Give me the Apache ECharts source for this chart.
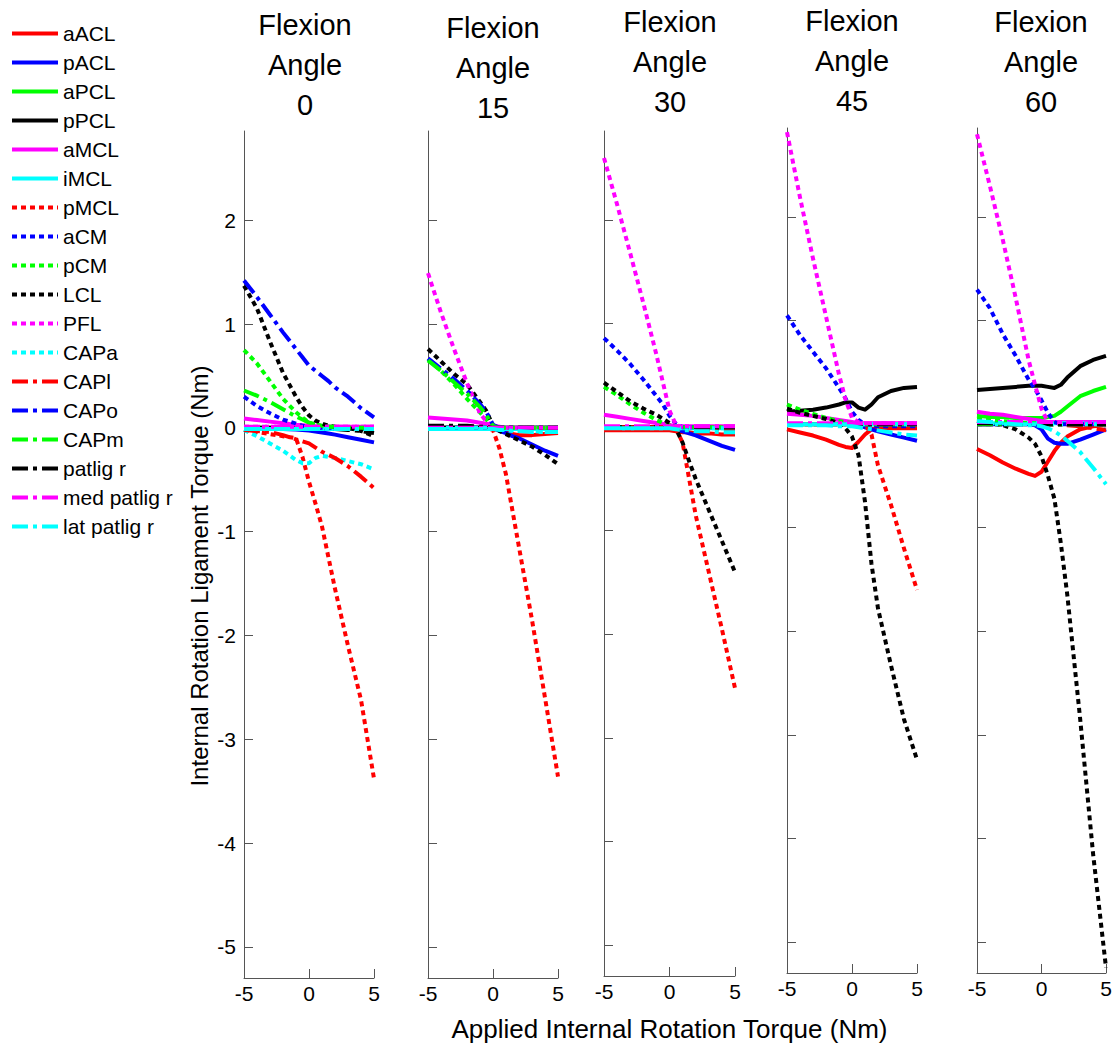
<!DOCTYPE html>
<html><head><meta charset="utf-8">
<script src="https://cdn.jsdelivr.net/npm/echarts@6/dist/echarts.min.js"></script>
<style>html,body{margin:0;padding:0;background:#fff}#c{width:1117px;height:1049px}</style>
</head><body><div id="c"></div><script>
// x grid shared by every series (applied internal rotation torque, Nm)
const X = [-5,-4,-3,-2,-1,-0.5,0,0.5,1,1.5,2,3,4,5];
const names = ['aACL','pACL','aPCL','pPCL','aMCL','iMCL','pMCL','aCM','pCM','LCL','PFL','CAPa','CAPl','CAPo','CAPm','patlig r','med patlig r','lat patlig r'];
const angles = ['0','15','30','45','60'];
const yTicks = [-5,-4,-3,-2,-1,0,1,2];
const xTicks = [-5,0,5];

// ---- Flexion angle 0 ----
const aACL_0 = [-0.01,-0.01,-0.01,-0.01,-0.01,-0.01,-0.01,-0.01,-0.01,-0.01,-0.01,0,0,0];
const pACL_0 = [0,0,-0.005,-0.01,-0.015,-0.02,-0.025,-0.035,-0.045,-0.055,-0.065,-0.09,-0.115,-0.14];
const aPCL_0 = [0,0,0,0,0,0,0,0,0,0,0,0,0,0];
const pPCL_0 = [0,0,0,0,0,0,0,0,0,0,0,0,0,0];
const aMCL_0 = [0.09,0.075,0.06,0.045,0.03,0.025,0.02,0.015,0.01,0.01,0.01,0.01,0.01,0.01];
const iMCL_0 = [-0.01,-0.01,-0.01,-0.01,-0.01,-0.01,-0.01,-0.01,-0.01,-0.01,-0.01,-0.01,-0.01,-0.01];
const pMCL_0 = [-0.02,-0.04,-0.06,-0.08,-0.10,-0.28,-0.52,-0.73,-0.95,-1.25,-1.55,-2.10,-2.62,-3.38];
const aCM_0 = [0.30,0.21,0.14,0.08,0.04,0.02,0.01,0,0,0,0,0,0,0];
const pCM_0 = [0.75,0.62,0.45,0.28,0.15,0.10,0.05,0.03,0.02,0.01,0.01,0,0,0];
const LCL_0 = [1.37,1.15,0.83,0.53,0.30,0.20,0.12,0.07,0.04,0.02,0.01,0,-0.03,-0.08];
const PFL_0 = [0.01,0.01,0.01,0.01,0.01,0.01,0.01,0.01,0.01,0.01,0.01,0.01,0.01,0.01];
const CAPa_0 = [-0.02,-0.08,-0.15,-0.22,-0.31,-0.34,-0.34,-0.29,-0.27,-0.28,-0.29,-0.32,-0.35,-0.40];
const CAPl_0 = [-0.02,-0.03,-0.04,-0.07,-0.11,-0.13,-0.15,-0.19,-0.23,-0.26,-0.29,-0.37,-0.47,-0.58];
const CAPo_0 = [1.42,1.26,1.09,0.92,0.76,0.68,0.60,0.55,0.50,0.45,0.39,0.30,0.19,0.10];
const CAPm_0 = [0.36,0.31,0.25,0.18,0.11,0.08,0.05,0.03,0.02,0.01,0.01,0,0,0];
const patlig_0 = [0,0,0,0,0,0,0,0,0,-0.01,-0.01,-0.02,-0.03,-0.05];
const medpat_0 = [0.01,0.01,0.01,0.01,0.01,0.01,0.01,0.01,0.01,0.01,0.01,0.01,0.01,0.01];
const latpat_0 = [-0.01,-0.01,-0.01,-0.01,-0.01,-0.01,-0.01,-0.01,-0.01,-0.01,-0.01,-0.01,-0.01,-0.01];

// ---- Flexion angle 15 ----
const aACL_15 = [0,0,0,0,0,0,0,-0.02,-0.04,-0.06,-0.07,-0.07,-0.06,-0.05];
const pACL_15 = [0,0,0,0,0,0,0,-0.03,-0.05,-0.08,-0.10,-0.16,-0.22,-0.27];
const aPCL_15 = [0,0,0,0,0,0,0,0,0,0,0,0,0,0];
const pPCL_15 = [0,0,0,0,0,0,0,0,0,0,0,0,0,0];
const aMCL_15 = [0.10,0.09,0.08,0.07,0.05,0.04,0.02,0.01,0,0,0,0,0,0];
const iMCL_15 = [-0.01,-0.01,-0.01,-0.01,-0.01,-0.01,-0.01,-0.01,-0.01,-0.01,-0.01,-0.01,-0.01,-0.01];
const pMCL_15 = [0,0,0,0,0,0,-0.02,-0.20,-0.45,-0.80,-1.15,-1.85,-2.60,-3.36];
const aCM_15 = [0,0,0,0,0,0,0,0,0,0,0,0,0,0];
const pCM_15 = [0.66,0.55,0.42,0.28,0.15,0.08,0.01,0,0,0,0,0,0,0];
const LCL_15 = [0.76,0.64,0.52,0.42,0.25,0.16,0.02,-0.03,-0.06,-0.09,-0.12,-0.18,-0.26,-0.35];
const PFL_15 = [1.49,1.11,0.76,0.43,0.14,0.06,0.01,0,0,0,0,0,0,0];
const CAPa_15 = [0,0,0,0,0,0,0,-0.01,-0.02,-0.02,-0.03,-0.03,-0.04,-0.04];
const CAPl_15 = [0,0,0,0,0,0,0,0,0,0,0,0,0,0];
const CAPo_15 = [0.67,0.57,0.47,0.36,0.23,0.15,0.03,0,0,0,0,0,0,0];
const CAPm_15 = [0.65,0.55,0.44,0.33,0.20,0.12,0.02,0,0,0,0,0,0,0];
const patlig_15 = [0.02,0.02,0.02,0.02,0.01,0.01,0,0,0,0,0,0,0,0];
const medpat_15 = [0,0,0,0,0,0,0,0,0,0,0,0,0,0];
const latpat_15 = [-0.01,-0.01,-0.01,-0.01,-0.01,-0.01,-0.01,-0.02,-0.02,-0.03,-0.03,-0.04,-0.04,-0.04];

// ---- Flexion angle 30 ----
const aACL_30 = [-0.03,-0.03,-0.03,-0.03,-0.03,-0.03,-0.03,-0.04,-0.05,-0.05,-0.06,-0.06,-0.07,-0.07];
const pACL_30 = [0,0,0,0,0,0,0,-0.02,-0.04,-0.06,-0.08,-0.13,-0.18,-0.22];
const aPCL_30 = [0,0,0,0,0,0,0,0,0,0,0,0,0,0];
const pPCL_30 = [0,0,0,0,0,0,0,0,0,0,0,0,0,0];
const aMCL_30 = [0.12,0.10,0.08,0.06,0.04,0.03,0.02,0.01,0.01,0.01,0.01,0.01,0.01,0.01];
const iMCL_30 = [-0.01,-0.01,-0.01,-0.01,-0.01,-0.01,-0.01,-0.01,-0.01,-0.01,-0.01,-0.01,-0.01,-0.01];
const pMCL_30 = [0,0,0,0,0,0,0,-0.02,-0.15,-0.50,-0.85,-1.40,-1.95,-2.52];
const aCM_30 = [0.86,0.74,0.61,0.46,0.30,0.22,0.11,0.03,0,0,0,0,0,0];
const pCM_30 = [0.39,0.31,0.22,0.14,0.07,0.04,0.02,0.01,0,0,0,0,0,0];
const LCL_30 = [0.43,0.34,0.25,0.18,0.12,0.08,0.04,-0.02,-0.15,-0.33,-0.50,-0.80,-1.10,-1.40];
const PFL_30 = [2.60,2.15,1.68,1.20,0.70,0.43,0.16,0.02,0,0,0,0,0,0];
const CAPa_30 = [-0.01,-0.01,-0.01,-0.01,-0.01,-0.01,-0.01,-0.01,-0.01,-0.01,-0.01,-0.01,-0.01,-0.01];
const CAPl_30 = [-0.02,-0.02,-0.02,-0.02,-0.02,-0.02,-0.02,-0.02,-0.02,-0.02,-0.02,-0.02,-0.02,-0.02];
const CAPo_30 = [0,0,0,0,0,0,0,0,0,0,0,0,0,0];
const CAPm_30 = [0,0,0,0,0,0,0,0,0,0,0,0,0,0];
const patlig_30 = [0,0,0,0,0,0,0,0,0,0,0,0,0,0];
const medpat_30 = [0.01,0.01,0.01,0.01,0.01,0.01,0.01,0.01,0.01,0.01,0.01,0.01,0.01,0.01];
const latpat_30 = [-0.01,-0.01,-0.01,-0.01,-0.01,-0.01,-0.01,-0.02,-0.03,-0.03,-0.04,-0.04,-0.05,-0.05];

// ---- Flexion angle 45 ----
const aACL_45 = [-0.05,-0.08,-0.11,-0.15,-0.20,-0.22,-0.23,-0.17,-0.10,-0.05,-0.04,-0.04,-0.04,-0.04];
const pACL_45 = [0,0,0,0,0,0,0,-0.01,-0.03,-0.05,-0.07,-0.10,-0.13,-0.16];
const aPCL_45 = [0,0,0,0,0,0,0,0,0,0,0,0,0,0];
const pPCL_45 = [0.12,0.13,0.14,0.16,0.19,0.21,0.21,0.16,0.14,0.19,0.26,0.32,0.35,0.36];
const aMCL_45 = [0.10,0.09,0.08,0.06,0.04,0.03,0.02,0.01,0.01,0.01,0.01,0.01,0.01,0.01];
const iMCL_45 = [0,0,0,0,0,0,0,0,0,0,0,0,0,0];
const pMCL_45 = [0,0,0,0,0,0,0,0,0,-0.10,-0.40,-0.78,-1.20,-1.60];
const aCM_45 = [1.05,0.86,0.70,0.54,0.35,0.25,0.12,0.04,0,-0.01,-0.02,-0.02,-0.02,-0.02];
const pCM_45 = [0.19,0.14,0.10,0.06,0.03,0.02,0.01,0,0,0,0,0,0,0];
const LCL_45 = [0.15,0.11,0.08,0.05,0.01,-0.04,-0.12,-0.30,-0.75,-1.35,-1.78,-2.33,-2.85,-3.24];
const PFL_45 = [2.82,2.19,1.60,1.04,0.48,0.24,0.06,0.02,0.01,0.01,0.01,0.01,0.01,0.01];
const CAPa_45 = [0,0,0,0,0,0,0,0,0,0,0,0,0,0];
const CAPl_45 = [0,0,0,0,0,0,0,0,0,0,0,0,0,0];
const CAPo_45 = [0,0,0,0,0,0,0,0,0,0,0,0,0,0];
const CAPm_45 = [0,0,0,0,0,0,0,0,0,0,0,0,0,0];
const patlig_45 = [0,0,0,0,0,0,0,0,0,0,0,0,0,0];
const medpat_45 = [0.01,0.01,0.01,0.01,0.01,0.01,0.01,0.01,0.01,0.01,0.01,0.01,0.01,0.01];
const latpat_45 = [-0.01,-0.01,-0.01,-0.01,-0.02,-0.02,-0.02,-0.03,-0.04,-0.05,-0.06,-0.08,-0.10,-0.11];

// ---- Flexion angle 60 ----
const aACL_60 = [-0.24,-0.30,-0.37,-0.43,-0.48,-0.50,-0.46,-0.36,-0.26,-0.18,-0.12,-0.05,-0.02,-0.01];
const pACL_60 = [0,0,0,0,0,-0.01,-0.05,-0.14,-0.18,-0.19,-0.19,-0.15,-0.10,-0.05];
const aPCL_60 = [0.08,0.07,0.07,0.06,0.06,0.06,0.06,0.07,0.08,0.12,0.17,0.27,0.32,0.36];
const pPCL_60 = [0.33,0.34,0.35,0.36,0.37,0.37,0.37,0.36,0.35,0.38,0.45,0.56,0.62,0.66];
const aMCL_60 = [0.12,0.10,0.09,0.07,0.05,0.04,0.03,0.02,0.02,0.02,0.02,0.02,0.02,0.02];
const iMCL_60 = [0.01,0.01,0.01,0.01,0.01,0.01,0.01,0.01,0.01,0.01,0.01,0.01,0.01,0.01];
const pMCL_60 = [0,0,0,0,0,0,0,0,0,0,0,0,0,0];
const aCM_60 = [1.30,1.12,0.87,0.66,0.43,0.34,0.23,0.11,0.02,0,0,0,0,0];
const pCM_60 = [0.05,0.04,0.03,0.02,0.01,0.01,0,0,0,0,0,0,0,0];
const LCL_60 = [0.03,0.01,-0.01,-0.05,-0.13,-0.19,-0.31,-0.50,-0.72,-1.15,-1.65,-2.85,-4.15,-5.25];
const PFL_60 = [2.80,2.30,1.78,1.22,0.62,0.38,0.15,0.02,0.01,0.01,0.01,0.01,0.01,0.01];
const CAPa_60 = [0,0,0,0,0,0,0,0,0,0,0,0,0,0];
const CAPl_60 = [0,0,0,0,0,0,0,0,0,0,-0.01,-0.02,-0.04,-0.06];
const CAPo_60 = [0,0,0,0,0,0,0,0,0,0,0,0,0,0];
const CAPm_60 = [0,0,0,0,0,0,0,0,0,0,0,0,0,0];
const patlig_60 = [0.01,0.01,0.01,0.01,0.01,0.01,0,0,0,0,0,0,0,0];
const medpat_60 = [0.02,0.02,0.02,0.02,0.02,0.02,0.02,0.02,0.02,0.02,0.02,0.02,0.02,0.02];
const latpat_60 = [0.03,0.02,0.01,0,-0.01,-0.01,-0.02,-0.04,-0.07,-0.11,-0.16,-0.27,-0.42,-0.58];

const panels = [
  [aACL_0,pACL_0,aPCL_0,pPCL_0,aMCL_0,iMCL_0,pMCL_0,aCM_0,pCM_0,LCL_0,PFL_0,CAPa_0,CAPl_0,CAPo_0,CAPm_0,patlig_0,medpat_0,latpat_0],
  [aACL_15,pACL_15,aPCL_15,pPCL_15,aMCL_15,iMCL_15,pMCL_15,aCM_15,pCM_15,LCL_15,PFL_15,CAPa_15,CAPl_15,CAPo_15,CAPm_15,patlig_15,medpat_15,latpat_15],
  [aACL_30,pACL_30,aPCL_30,pPCL_30,aMCL_30,iMCL_30,pMCL_30,aCM_30,pCM_30,LCL_30,PFL_30,CAPa_30,CAPl_30,CAPo_30,CAPm_30,patlig_30,medpat_30,latpat_30],
  [aACL_45,pACL_45,aPCL_45,pPCL_45,aMCL_45,iMCL_45,pMCL_45,aCM_45,pCM_45,LCL_45,PFL_45,CAPa_45,CAPl_45,CAPo_45,CAPm_45,patlig_45,medpat_45,latpat_45],
  [aACL_60,pACL_60,aPCL_60,pPCL_60,aMCL_60,iMCL_60,pMCL_60,aCM_60,pCM_60,LCL_60,PFL_60,CAPa_60,CAPl_60,CAPo_60,CAPm_60,patlig_60,medpat_60,latpat_60]
];

const colors = ['#ff0000','#0000ff','#00ff00','#000000','#ff00ff','#00ffff'];
const dashes = ['solid',[5,4],[16,5,4,5]];
const FONT = 'Liberation Sans, Arial, Helvetica, sans-serif';

const gridBoxes = [
  {left:244, top:131, width:130, height:847},
  {left:428, top:131, width:130, height:847},
  {left:604, top:131, width:131, height:845},
  {left:787, top:128, width:130, height:845},
  {left:977, top:128, width:129, height:845}
];
const titleCenters = [305, 493, 670, 852, 1041];
const titleTops = [5, 8, 2, 1, 2];

const grid = gridBoxes.map(g => Object.assign({containLabel:false}, g));
const axisColor = '#555';
const xAxis = gridBoxes.map((g,i) => ({
  type:'value', gridIndex:i, min:-5, max:5, interval:5,
  axisLine:{show:true, onZero:false, lineStyle:{color:axisColor, width:1}},
  axisTick:{show:true, inside:true, length:9, lineStyle:{color:axisColor}},
  axisLabel:{show:true, color:'#000', fontSize:21, fontFamily:FONT, margin:5},
  splitLine:{show:false},
  name: i===2 ? 'Applied Internal Rotation Torque (Nm)' : '',
  nameLocation:'middle', nameGap:40,
  nameTextStyle:{color:'#000', fontSize:26, fontFamily:FONT}
}));
const yAxis = gridBoxes.map((g,i) => ({
  type:'value', gridIndex:i, min:-5.3, max:2.86,
  axisLine:{show:true, onZero:false, lineStyle:{color:axisColor, width:1}},
  axisTick:{show:true, inside:true, length:9, lineStyle:{color:axisColor}, customValues:yTicks},
  axisLabel:{show:i===0, color:'#000', fontSize:21, fontFamily:FONT, margin:8, customValues:yTicks},
  splitLine:{show:false}
}));

const series = [];
panels.forEach((vals, p) => {
  vals.forEach((arr, k) => {
    series.push({
      type:'line', name:names[k], xAxisIndex:p, yAxisIndex:p,
      data: X.map((x,j) => [x, arr[j]]),
      symbol:'none', showSymbol:false, smooth:false, silent:true,
      lineStyle:{color:colors[k%6], width:4, type:dashes[Math.floor(k/6)], cap:'butt', join:'round'},
      itemStyle:{color:colors[k%6]}
    });
  });
});

const title = angles.map((a,i) => ({
  text:'Flexion\nAngle\n'+a, left:titleCenters[i], top:titleTops[i], textAlign:'center', padding:0,
  textStyle:{color:'#000', fontSize:29, fontWeight:'normal', fontFamily:FONT, lineHeight:40}
}));

const chart = echarts.init(document.getElementById('c'), null, {renderer:'svg', width:1117, height:1049});
chart.setOption({
  animation:false,
  backgroundColor:'#fff',
  title, grid, xAxis, yAxis, series,
  graphic:[{
    type:'text', x:199, y:576, rotation:Math.PI/2, silent:true,
    style:{text:'Internal Rotation Ligament Torque (Nm)', fill:'#000', font:'24px ' + FONT, align:'center', verticalAlign:'middle'}
  }],
  legend:{
    data:names, orient:'vertical', left:5, top:18, itemWidth:46, itemHeight:14, itemGap:8,
    selectedMode:false,
    itemStyle:{opacity:0},
    lineStyle:{width:4},
    textStyle:{color:'#000', fontSize:21, fontFamily:FONT, lineHeight:21}
  }
});
</script></body></html>
